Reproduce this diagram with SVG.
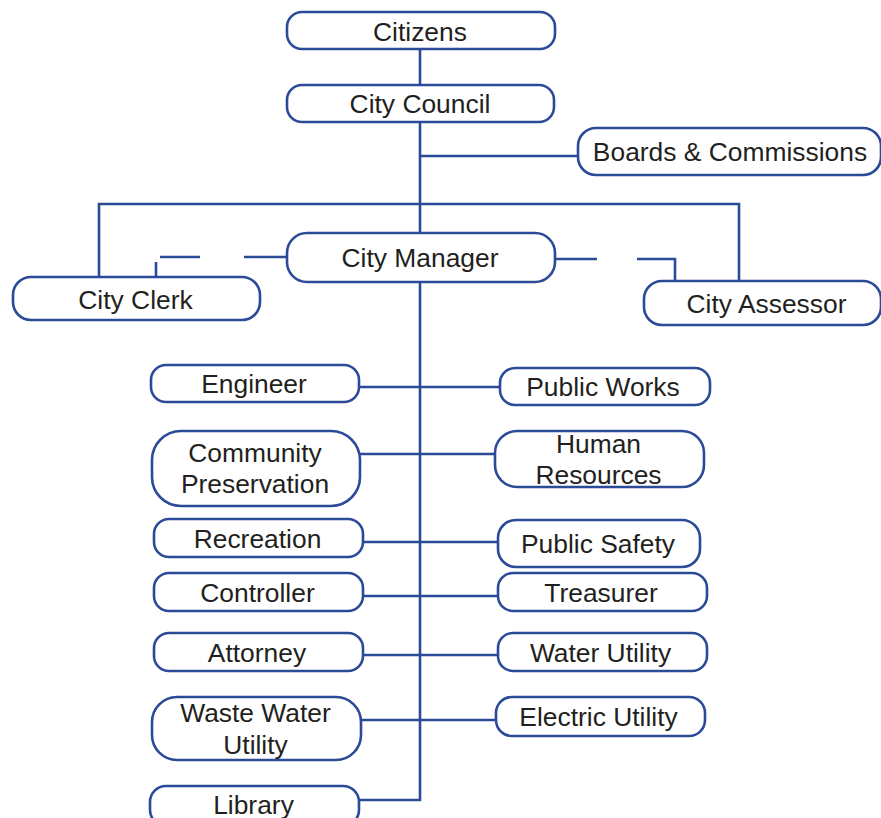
<svg xmlns="http://www.w3.org/2000/svg" width="881" height="818" viewBox="0 0 881 818">
<style>
.n{fill:#fff;stroke:#2b4a98;stroke-width:2.6}
.c{fill:none;stroke:#2b4a98;stroke-width:2.6}
text{font-family:"Liberation Sans",Arial,sans-serif;font-size:26.4px;fill:#231f20;text-anchor:middle}
</style>
<rect width="881" height="818" fill="#fff"/>
<g id="connectors">
<path class="c" d="M420,49V85M420,122V233M420,156H578M99,277V204H739V281M420,282V800H360"/>
<path class="c" d="M287,257H244M200,257H160M156,262V277"/>
<path class="c" d="M555,259H597M637,259H675V281"/>
<path class="c" d="M359,387H500M360,454H495M363,542H498M363,596H498M363,655H498M361,720H496"/>
</g>
<g id="citizens"><rect class="n" x="287" y="12" width="268" height="37" rx="15"/><text x="420" y="41">Citizens</text></g>
<g id="city-council"><rect class="n" x="287" y="85" width="267" height="37" rx="15"/><text x="420" y="113">City Council</text></g>
<g id="boards"><rect class="n" x="578" y="128" width="303" height="47" rx="18"/><text x="730" y="161">Boards &amp; Commissions</text></g>
<g id="city-manager"><rect class="n" x="287" y="233" width="268" height="49" rx="20"/><text x="420" y="267">City Manager</text></g>
<g id="city-clerk"><rect class="n" x="13" y="277" width="247" height="43" rx="18"/><text x="135.5" y="309">City Clerk</text></g>
<g id="city-assessor"><rect class="n" x="644" y="281" width="237" height="44" rx="18"/><text x="766.5" y="313">City Assessor</text></g>
<g id="engineer"><rect class="n" x="151" y="365" width="208" height="37" rx="15"/><text x="254" y="393">Engineer</text></g>
<g id="public-works"><rect class="n" x="500" y="368" width="210" height="37" rx="15"/><text x="603" y="396">Public Works</text></g>
<g id="community-preservation"><rect class="n" x="152" y="431" width="208" height="75" rx="29"/><text x="255" y="462">Community</text><text x="255" y="493">Preservation</text></g>
<g id="human-resources"><rect class="n" x="495" y="431" width="209" height="56" rx="22"/><text x="598.5" y="453">Human</text><text x="598.5" y="484">Resources</text></g>
<g id="recreation"><rect class="n" x="154" y="519" width="209" height="38" rx="15"/><text x="257.5" y="548">Recreation</text></g>
<g id="public-safety"><rect class="n" x="498" y="520" width="202" height="47" rx="18"/><text x="598" y="553">Public Safety</text></g>
<g id="controller"><rect class="n" x="154" y="573" width="209" height="38" rx="15"/><text x="257.5" y="602">Controller</text></g>
<g id="treasurer"><rect class="n" x="498" y="573" width="209" height="38" rx="15"/><text x="601" y="602">Treasurer</text></g>
<g id="attorney"><rect class="n" x="154" y="633" width="209" height="38" rx="15"/><text x="257" y="662">Attorney</text></g>
<g id="water-utility"><rect class="n" x="498" y="633" width="209" height="38" rx="15"/><text x="600.5" y="662">Water Utility</text></g>
<g id="waste-water-utility"><rect class="n" x="152" y="697" width="209" height="63" rx="25"/><text x="255.5" y="722">Waste Water</text><text x="255.5" y="754">Utility</text></g>
<g id="electric-utility"><rect class="n" x="496" y="697" width="209" height="39" rx="16"/><text x="598.5" y="726">Electric Utility</text></g>
<g id="library"><rect class="n" x="150" y="786" width="209" height="40" rx="16"/><text x="253.5" y="814">Library</text></g>
</svg>
